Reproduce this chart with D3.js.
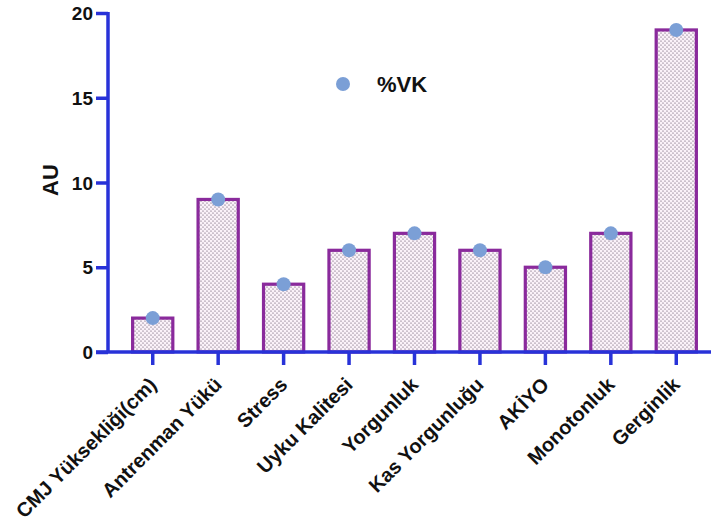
<!DOCTYPE html>
<html><head><meta charset="utf-8">
<script src="https://cdn.jsdelivr.net/npm/d3@7"></script>
<style>body{margin:0;background:#fff}svg{display:block}</style>
</head><body>
<svg id="c" width="711" height="532"></svg>
<script>
const categories = ["CMJ Yüksekliği(cm)","Antrenman Yükü","Stress","Uyku Kalitesi","Yorgunluk","Kas Yorgunluğu","AKİYO","Monotonluk","Gerginlik"];
const barValues = [2, 9, 4, 6, 7, 6, 5, 7, 19];
const vkValues = [2, 9, 4, 6, 7, 6, 5, 7, 19];
const yTicks = [0, 5, 10, 15, 20];
const seriesName = "%VK";

const svg = d3.select("#c");
const axisColor = "#2832d8", barStroke = "#8a2a9c", dotColor = "#7b9fd6";
const font = "'Liberation Sans', Arial, sans-serif";

const defs = svg.append("defs");
const pat = defs.append("pattern").attr("id","dots").attr("patternUnits","userSpaceOnUse")
  .attr("width",4).attr("height",4);
pat.append("rect").attr("width",4).attr("height",4).attr("fill","#fbf2f9");
pat.append("circle").attr("cx",1).attr("cy",1).attr("r",0.6).attr("fill","#4a3a52");
pat.append("circle").attr("cx",3).attr("cy",3).attr("r",0.6).attr("fill","#4a3a52");

const y = d3.scaleLinear().domain([0,20]).range([352,13]);
const x = d3.scaleBand().domain(categories).range([120,709]).paddingInner(0.34).paddingOuter(0.17);

// bars
svg.append("g").selectAll("rect").data(categories).join("rect")
  .attr("x", d => x(d) + 1.5)
  .attr("y", (d,i) => y(barValues[i]))
  .attr("width", x.bandwidth() - 3)
  .attr("height", (d,i) => y(0) - y(barValues[i]))
  .attr("fill","url(#dots)").attr("stroke",barStroke).attr("stroke-width",3.2);

// y axis
const yAxis = svg.append("g").attr("transform","translate(108,0)")
  .call(d3.axisLeft(y).tickValues(yTicks).tickSize(12).tickPadding(3));
yAxis.select(".domain").attr("stroke",axisColor).attr("stroke-width",3.5).attr("d","M0,12V352");
yAxis.selectAll(".tick line").attr("stroke",axisColor).attr("stroke-width",3.5);
yAxis.selectAll("text").attr("fill","#111").attr("font-family",font).attr("font-weight","bold").attr("font-size",19).attr("dy","0.35em");

// x axis
const xAxis = svg.append("g").attr("transform","translate(0,352)")
  .call(d3.axisBottom(x).tickSize(13).tickPadding(4));
xAxis.select(".domain").attr("stroke",axisColor).attr("stroke-width",3.5).attr("d","M96,0H711");
xAxis.selectAll(".tick line").attr("stroke",axisColor).attr("stroke-width",3.5);
xAxis.selectAll(".tick text").attr("y",0).attr("x",0)
  .attr("fill","#111").attr("font-family",font).attr("font-weight","bold").attr("font-size",20)
  .attr("text-anchor","end").attr("dy","0.35em")
  .attr("transform","translate(0,29) rotate(-45)");

// dots
svg.append("g").selectAll("circle").data(categories).join("circle")
  .attr("cx", d => x(d) + x.bandwidth()/2)
  .attr("cy", (d,i) => y(vkValues[i]))
  .attr("r", 7).attr("fill", dotColor);

// y label
svg.append("text").attr("transform","translate(58,180) rotate(-90)")
  .attr("text-anchor","middle").attr("font-family",font).attr("font-weight","bold").attr("font-size",22)
  .attr("fill","#111").text("AU");

// legend
svg.append("circle").attr("cx",343).attr("cy",84).attr("r",7).attr("fill",dotColor);
svg.append("text").attr("x",377).attr("y",92).attr("font-family",font).attr("font-weight","bold")
  .attr("font-size",22).attr("fill","#111").text(seriesName);
</script>
</body></html>
